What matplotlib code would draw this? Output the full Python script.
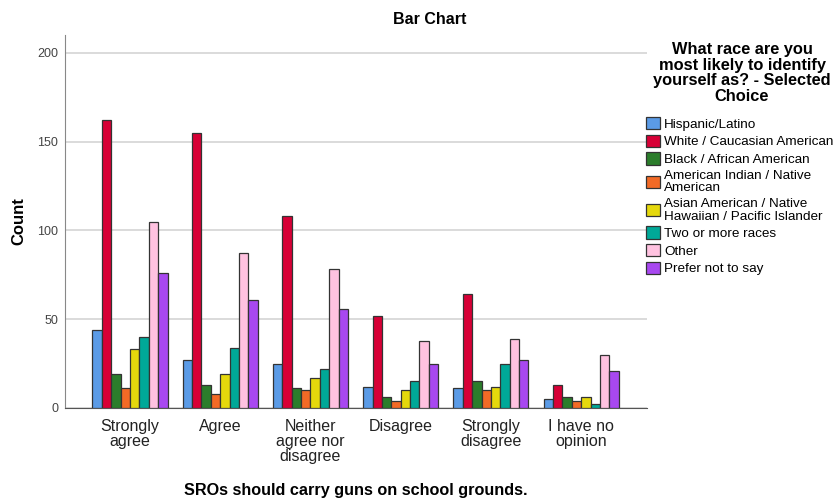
import numpy as np
import matplotlib.pyplot as plt

plt.rcParams['font.family'] = ['Liberation Sans', 'DejaVu Sans']

categories = ["Strongly\nagree", "Agree", "Neither\nagree nor\ndisagree",
              "Disagree", "Strongly\ndisagree", "I have no\nopinion"]

series_names = ["Hispanic/Latino", "White / Caucasian American",
                "Black / African American", "American Indian / Native\nAmerican",
                "Asian American / Native\nHawaiian / Pacific Islander",
                "Two or more races", "Other", "Prefer not to say"]

hispanic = [44, 27, 25, 12, 11, 5]
white = [162, 155, 108, 52, 64, 13]
black = [19, 13, 11, 6, 15, 6]
am_indian = [11, 8, 10, 4, 10, 4]
asian = [33, 19, 17, 10, 12, 6]
two_more = [40, 34, 22, 15, 25, 2]
other = [105, 87, 78, 38, 39, 30]
prefer_not = [76, 61, 56, 25, 27, 21]

colors = ["#5b9be6", "#d70036", "#2b7d2b", "#f26a26",
          "#e5d80c", "#00a898", "#ffc2e0", "#a848f0"]

series = [hispanic, white, black, am_indian, asian, two_more, other, prefer_not]

fig = plt.figure(figsize=(8.38, 4.99), dpi=100)
ax = fig.add_axes([65/838, 91/499, (647-65)/838, (408-35)/499])

x = np.arange(len(categories))
w = 0.104
for i, (vals, name, c) in enumerate(zip(series, series_names, colors)):
    ax.bar(x + (i - 3.5) * w, vals, w, color=c, edgecolor="#333333",
           linewidth=0.9, label=name, zorder=3)

ax.set_xlim(-0.72, 5.73)
ax.set_ylim(0, 210)
ax.set_yticks([0, 50, 100, 150, 200])
ax.yaxis.grid(True, color="#d4d4d4", linewidth=1.2, zorder=0)
ax.set_xticks(x)
ax.set_xticklabels(categories, fontsize=11.5, color="#222222", linespacing=1.0)
ax.tick_params(axis="x", length=0, pad=8)
ax.tick_params(axis="y", length=0, labelsize=9, labelcolor="#444444", pad=5)
for s in ["top", "right"]:
    ax.spines[s].set_visible(False)
ax.spines["left"].set_color("#888888")
ax.spines["bottom"].set_color("#555555")

ax.set_ylabel("Count", fontsize=12, fontweight="bold")
ax.yaxis.set_label_coords(-(65 - 26) / 582, 0.5)
fig.text(356/838, 1 - 490/499, "SROs should carry guns on school grounds.",
         ha="center", va="center", fontsize=11.7, fontweight="bold")
fig.text(430/838, 1 - 20/499, "Bar Chart", ha="center", va="center",
         fontsize=11.5, fontweight="bold")

fig.text(742/838, 1 - 73/499,
         "What race are you\nmost likely to identify\nyourself as? - Selected\nChoice",
         ha="center", va="center", fontsize=11.8, fontweight="bold", linespacing=1.03)

leg = fig.legend(loc="upper left", bbox_to_anchor=(646/838, 1 - 117/499),
                 frameon=False, fontsize=9.7, handlelength=1.05, handleheight=1.05,
                 handletextpad=0.3, labelspacing=0.28, borderpad=0, borderaxespad=0)
for t in leg.get_texts():
    t.set_linespacing(1.05)

fig.savefig("out.png", dpi=100)
